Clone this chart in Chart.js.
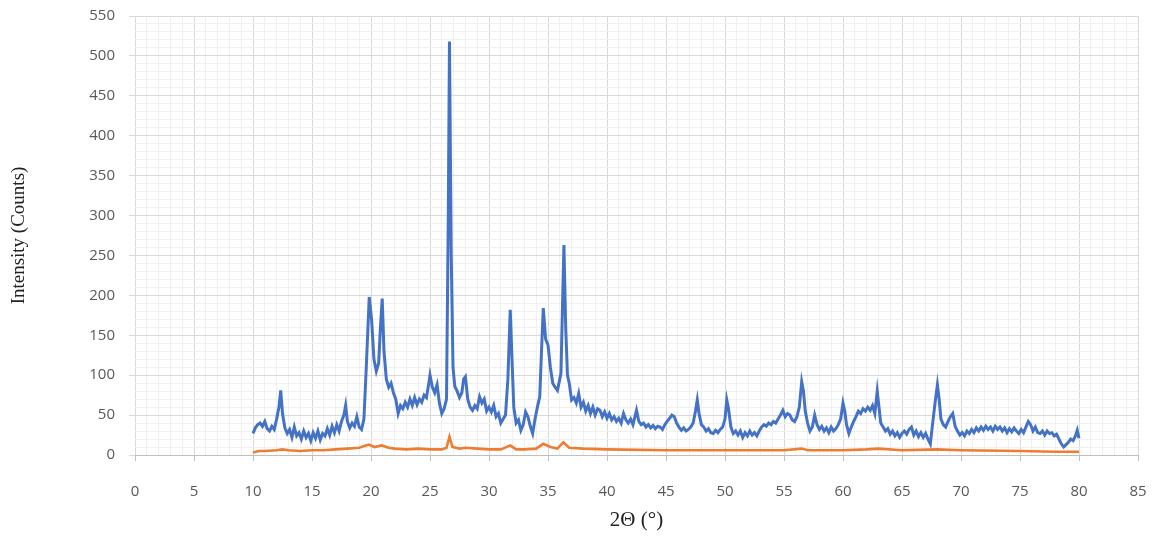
<!DOCTYPE html>
<html>
<head>
<meta charset="utf-8">
<script src="https://cdn.jsdelivr.net/npm/chart.js@4/dist/chart.umd.min.js"></script>
<style>
html,body{margin:0;padding:0;background:#fff;}
canvas{display:block;}
</style>
</head>
<body>
<canvas id="c" width="1158" height="538"></canvas>
<script>
// Sample A (blue): 2Θ positions and intensities
const twoThetaA = [
10.0,10.2,10.4,10.6,10.8,11.0,11.2,11.4,11.6,11.8,12.0,12.2,12.35,12.5,12.7,12.9,13.1,13.3,13.5,13.7,13.9,
14.1,14.3,14.5,14.7,14.9,15.1,15.3,15.5,15.7,15.9,16.1,16.3,16.5,16.7,16.9,17.1,17.3,17.5,17.7,17.85,
18.0,18.2,18.4,18.6,18.8,19.0,19.2,19.4,19.6,19.85,20.05,20.25,20.45,20.65,20.8,20.95,21.1,21.3,21.5,21.7,21.9,
22.1,22.3,22.5,22.7,22.9,23.1,23.3,23.5,23.7,23.9,24.1,24.3,24.5,24.7,24.9,25.0,25.2,25.4,25.6,25.8,
26.0,26.2,26.4,26.55,26.65,26.8,26.95,27.1,27.3,27.5,27.7,27.85,28.0,28.2,28.4,28.6,28.8,29.0,29.2,29.4,29.6,29.8,
30.0,30.2,30.4,30.6,30.8,31.0,31.2,31.4,31.6,31.8,31.95,32.1,32.3,32.5,32.7,32.9,33.1,33.3,33.5,33.7,33.9,
34.1,34.3,34.45,34.6,34.8,35.0,35.2,35.4,35.6,35.8,36.0,36.1,36.25,36.35,36.5,36.65,36.8,37.0,37.2,37.4,37.6,37.8,
38.0,38.2,38.4,38.6,38.8,39.0,39.2,39.4,39.6,39.8,40.0,40.2,40.4,40.6,40.8,41.0,41.2,41.4,41.6,41.8,
42.0,42.2,42.4,42.5,42.7,42.9,43.1,43.3,43.5,43.7,43.9,44.1,44.3,44.5,44.7,44.9,45.1,45.3,45.5,45.7,45.9,
46.1,46.3,46.5,46.7,46.9,47.1,47.3,47.5,47.65,47.8,48.0,48.2,48.4,48.6,48.8,49.0,49.2,49.4,49.6,49.8,
50.0,50.15,50.3,50.5,50.7,50.9,51.1,51.3,51.5,51.7,51.9,52.1,52.3,52.5,52.7,52.9,53.1,53.3,53.5,53.7,53.9,
54.1,54.3,54.5,54.7,54.9,55.1,55.3,55.5,55.7,55.9,56.1,56.3,56.5,56.65,56.8,57.0,57.2,57.4,57.6,57.8,
58.0,58.2,58.4,58.6,58.8,59.0,59.2,59.4,59.6,59.8,60.0,60.15,60.3,60.5,60.7,60.9,61.1,61.3,61.5,61.7,61.9,
62.1,62.3,62.5,62.7,62.9,63.05,63.2,63.4,63.6,63.8,64.0,64.2,64.4,64.6,64.8,65.0,65.2,65.4,65.6,65.8,
66.0,66.2,66.4,66.6,66.8,67.0,67.2,67.4,67.6,67.8,68.0,68.15,68.3,68.5,68.7,68.9,69.1,69.3,69.5,69.7,69.9,
70.1,70.3,70.5,70.7,70.9,71.1,71.3,71.5,71.7,71.9,72.1,72.3,72.5,72.7,72.9,73.1,73.3,73.5,73.7,73.9,
74.1,74.3,74.5,74.7,74.9,75.1,75.3,75.5,75.7,75.9,76.1,76.3,76.5,76.7,76.9,77.1,77.3,77.5,77.7,77.9,
78.1,78.3,78.5,78.7,78.9,79.1,79.3,79.5,79.7,79.85,80.0
];
const intensityA = [
27,34,38,40,36,42,33,30,36,32,45,60,81,52,34,27,32,22,35,24,28,
20,30,22,27,18,28,21,30,19,27,24,33,25,36,28,38,30,42,50,62,
42,34,40,36,48,35,32,45,110,198,170,120,105,115,160,196,130,95,85,90,78,
70,52,62,58,66,60,70,62,72,63,70,66,75,72,90,100,85,78,88,65,
52,58,70,300,518,250,110,86,80,72,78,95,98,70,60,56,62,58,73,65,70,55,
60,54,62,48,52,40,45,50,95,182,120,60,40,44,31,38,54,48,36,27,45,
60,73,130,184,145,138,110,90,85,81,95,103,200,263,160,100,90,69,72,65,77,60,
66,55,62,52,60,50,58,56,48,54,46,52,44,48,42,46,40,52,44,40,
45,38,50,56,42,38,40,35,38,34,37,33,36,35,32,38,42,46,50,48,40,
35,31,34,30,32,35,40,55,69,52,38,35,30,33,28,27,31,28,32,35,
45,69,58,35,27,30,25,30,22,28,24,30,25,28,24,30,35,38,36,40,38,
42,40,45,50,56,48,52,50,44,42,48,60,92,80,55,40,30,35,50,38,
32,36,30,34,28,35,30,33,38,45,65,55,38,27,35,42,48,55,52,58,55,
60,56,62,52,80,60,40,35,30,33,26,30,24,28,22,27,30,26,32,35,
25,30,23,28,22,27,20,14,40,65,88,70,45,38,35,42,48,52,36,30,25,
28,24,30,27,32,28,34,30,35,31,36,32,35,30,36,32,35,30,34,28,
33,29,34,30,27,32,28,35,42,38,30,35,28,27,30,25,30,27,28,24,
26,20,14,10,13,16,20,18,24,31,21
];
// Sample B (orange)
const twoThetaB = [10.0,10.5,11.0,12.0,12.5,13.0,14.0,15.0,16.0,17.0,18.0,19.0,19.8,20.3,20.9,21.5,22.0,23.0,24.0,25.0,26.0,26.4,26.65,26.9,27.5,28.0,29.0,30.0,31.0,31.8,32.3,33.0,34.0,34.6,35.2,35.8,36.3,36.8,38.0,40.0,45.0,50.0,55.0,56.5,57.0,60.0,62.0,63.0,65.0,68.0,70.0,75.0,78.0,80.0];
const intensityB = [3,5,5,6,7,6,5,6,6,7,8,9,13,10,12,9,8,7,8,7,7,9,23,10,8,9,8,7,7,12,7,7,8,14,10,8,16,9,8,7,6,6,6,8,6,6,7,8,6,7,6,5,4,4];

const xMin = 0, xMax = 85, xMajor = 5, xMinor = 1;
const yMin = 0, yMax = 550, yMajor = 50, yMinor = 10;
const xTitle = '2\u0398 (\u00B0)';
const yTitle = 'Intensity (Counts)';

const ptsA = twoThetaA.map((x, i) => ({x, y: intensityA[i]}));
const ptsB = twoThetaB.map((x, i) => ({x, y: intensityB[i]}));

function isMajor(v, step){ return Math.abs(v/step - Math.round(v/step)) < 1e-6; }

new Chart(document.getElementById('c'), {
  type: 'line',
  data: {
    datasets: [
      {data: ptsB, borderColor: '#ED7D31', borderWidth: 2.6, pointRadius: 0, tension: 0, order: 2},
      {data: ptsA, borderColor: '#4472C4', borderWidth: 3, pointRadius: 0, tension: 0, order: 1}
    ]
  },
  options: {
    responsive: false,
    animation: false,
    layout: {padding: {top: 16, right: 20, left: 0, bottom: 0}},
    plugins: {legend: {display: false}, tooltip: {enabled: false}},
    scales: {
      x: {
        type: 'linear', min: xMin, max: xMax,
        afterFit: s => { s.height = 83; s.paddingLeft = 0; s.paddingRight = 0; },
        ticks: {
          stepSize: xMinor, autoSkip: false, maxRotation: 0,
          color: '#595959', font: {family: 'Open Sans', size: 15}, padding: 22,
          callback: v => isMajor(v, xMajor) ? String(v) : ''
        },
        grid: {
          color: c => isMajor(c.tick.value, xMajor) ? '#d9d9d9' : '#f0f0f0',
          lineWidth: 1,
          tickLength: 6,
          tickColor: c => isMajor(c.tick.value, xMajor) ? '#bfbfbf' : 'rgba(0,0,0,0)'
        },
        border: {display: true, color: '#bfbfbf', width: 1},
        title: {display: true, text: xTitle, color: '#222', font: {family: 'Liberation Serif', size: 21}, padding: {top: 0, bottom: 5}}
      },
      y: {
        type: 'linear', min: yMin, max: yMax,
        afterFit: s => { s.width = 135; s.paddingTop = 0; s.paddingBottom = 0; },
        ticks: {
          stepSize: yMinor, autoSkip: false,
          color: '#595959', font: {family: 'Open Sans', size: 15}, padding: 14,
          callback: v => isMajor(v, yMajor) ? String(v) : ''
        },
        grid: {
          color: c => isMajor(c.tick.value, yMajor) ? '#d9d9d9' : '#f0f0f0',
          lineWidth: 1,
          tickLength: 6,
          tickColor: c => isMajor(c.tick.value, yMajor) ? '#d9d9d9' : 'rgba(0,0,0,0)'
        },
        border: {display: false},
        title: {display: true, text: yTitle, color: '#222', font: {family: 'Liberation Serif', size: 19}, padding: {top: 8, bottom: 0}}
      }
    }
  }
});
</script>
</body>
</html>
